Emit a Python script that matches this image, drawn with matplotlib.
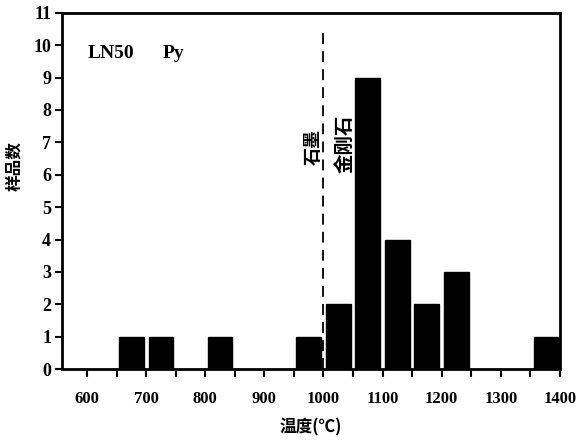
import matplotlib
matplotlib.use("Agg")
import matplotlib.pyplot as plt
import numpy as np

# temperature bins (centre, deg C) and number of samples
temps = [675, 725, 825, 975, 1025, 1075, 1125, 1175, 1225, 1378]
counts = [1, 1, 1, 1, 2, 9, 4, 2, 3, 1]
xticks_major = [600, 700, 800, 900, 1000, 1100, 1200, 1300, 1400]
xticks_minor = list(range(600, 1401, 50))
yticks = list(range(0, 12))

plt.rcParams['font.family'] = ['Liberation Serif', 'Noto Sans CJK SC', 'DejaVu Sans']
cjk = ['Noto Sans CJK SC', 'DejaVu Sans']

fig = plt.figure(figsize=(5.76, 4.41), dpi=100)
ax = fig.add_axes([0.108, 0.163, 0.864, 0.808])

ax.bar(temps, counts, width=42, color='black', edgecolor='black')

# graphite / diamond boundary
ax.plot([1000, 1000], [0, 10.45], color='black', lw=1.3, ls=(0, (6, 4)))
ax.text(982, 6.85, "石墨", rotation=90, ha='center', va='center',
        family=cjk, fontsize=13, fontweight='bold')
ax.text(1036, 6.95, "金刚石", rotation=90, ha='center', va='center',
        family=cjk, fontsize=14, fontweight='bold')
ax.text(601, 9.75, "LN50", fontsize=14, va='center', fontweight='bold')
ax.text(728, 9.75, "Py", fontsize=14, va='center', fontweight='bold')

ax.set_xlim(558, 1400)
ax.set_ylim(0, 11)
ax.set_xticks(xticks_minor, minor=True)
ax.set_xticks(xticks_major)
ax.set_xticklabels([str(t) for t in xticks_major], fontsize=12, fontweight='bold')
ax.set_yticks(yticks)
ax.set_yticklabels([str(t) for t in yticks], fontsize=13, fontweight='bold')
ax.tick_params(axis='x', which='both', length=6, width=1.5, direction='out', pad=10)
ax.tick_params(axis='x', which='minor', labelbottom=False)
ax.tick_params(axis='y', length=5, width=1.5, direction='out', pad=3)
for s in ax.spines.values():
    s.set_linewidth(2)

ax.set_xlabel("温度(℃)", family=cjk, fontsize=12, fontweight='bold', labelpad=8)
ax.set_ylabel("样品数", family=cjk, fontsize=12, fontweight='bold')
ax.yaxis.set_label_coords(-0.078, 0.57)

fig.savefig("out.png", dpi=100)
